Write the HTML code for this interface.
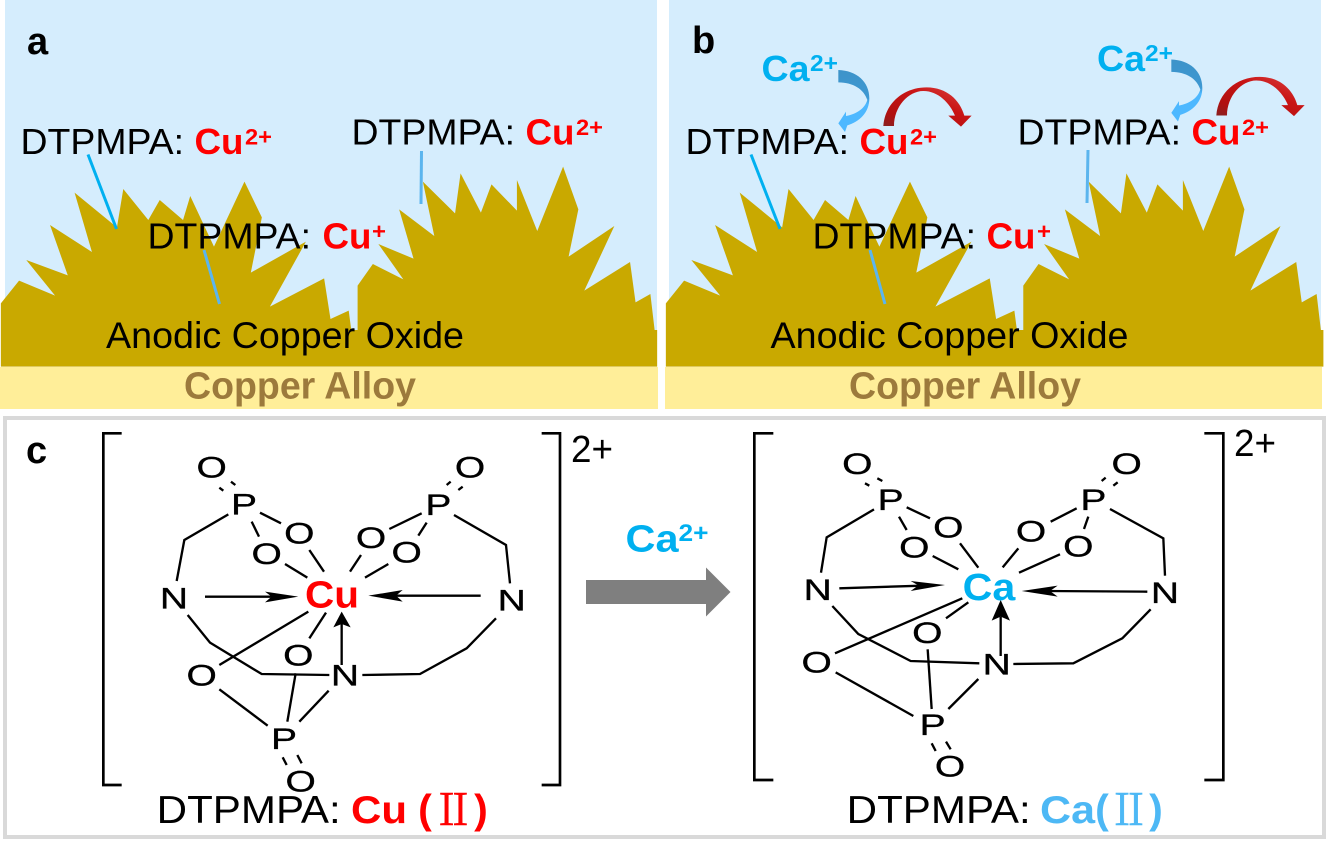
<!DOCTYPE html>
<html><head><meta charset="utf-8">
<style>
html,body{margin:0;padding:0;background:#fff}
svg{display:block}
text{font-family:"Liberation Sans",sans-serif}
.r{font-size:36px;fill:#000}
.an{font-size:37px;fill:#000}
.b{font-weight:bold}
.red{fill:#f00}
.ca{fill:#00b0f0}
.alloy{font-size:38px;font-weight:bold;fill:#9c7a3c}
.chem line,.chem polyline{stroke:#000;stroke-width:7;fill:none}
.chem text{font-size:90px;fill:#000;text-anchor:middle;stroke:#000;stroke-width:1}
.chem polygon{fill:#000}
.chem .br{stroke:#000;stroke-width:8;fill:none}
.cj{font-family:"Noto Serif CJK SC","Liberation Serif",serif;font-size:43px;text-anchor:middle;stroke-width:.5}
.pa{font-size:41px;font-weight:bold;text-anchor:middle}
</style></head>
<body>
<svg xmlns="http://www.w3.org/2000/svg" width="1326" height="843" viewBox="0 0 1326 843">
<defs>
<linearGradient id="bl" x1="0" y1="0" x2="0" y2="1"><stop offset="0" stop-color="#3d93c9"/><stop offset=".45" stop-color="#3d98d2"/><stop offset=".55" stop-color="#4db8ff"/><stop offset="1" stop-color="#4db8ff"/></linearGradient>
<linearGradient id="rd" x1="0" y1="1" x2="1" y2="0"><stop offset="0" stop-color="#862222"/><stop offset=".2" stop-color="#b01010"/><stop offset=".6" stop-color="#c81414"/><stop offset="1" stop-color="#dc4444"/></linearGradient>
<polygon id="gr" points="2,490 45,422 130,467 62,360 160,406 118,255 217,336 176,158 276,262 291,147 350,240 377,180 432,240 449,168 505,320 577,125 618,232 592,398 722,305 637,500 765,415 780,537 823,512 829,570 844,570 844,437 880,372 952,418 893,312 976,356 942,208 1025,288 998,125 1074,220 1087,100 1135,218 1160,133 1220,212 1220,120 1268,273 1329,80 1365,208 1342,350 1450,258 1379,452 1487,366 1500,487 1535,462 1545,570 1551,570 1551,680 2,680"/>
<g id="arr">
<path fill="url(#bl)" d="M265,90 C320,92 358,125 358,175 C358,218 328,245 292,256 L285,276 L265,250 L288,215 L288,228 C320,222 345,205 352,180 C342,148 310,127 265,127 Z"/>
<path fill="url(#rd)" d="M400,258 C405,190 460,142 530,142 C590,142 630,180 643,227 L665,227 L633,260 L595,227 L615,227 C600,190 565,153 520,153 C475,153 432,200 432,258 Z"/>
</g>
</defs>

<!-- panel a -->
<rect x="5" y="0" width="652" height="345" fill="#d5edfd"/>
<rect x="0" y="367" width="658" height="42" fill="#ffee99"/>
<use href="#gr" transform="translate(0,140) scale(.4237,.3333)" fill="#c9a900"/>
<line x1="88" y1="154.5" x2="116.5" y2="229" stroke="#00b0f0" stroke-width="3"/>
<line x1="421.5" y1="151" x2="421" y2="204" stroke="#5bb5ee" stroke-width="3"/>
<line x1="204" y1="250" x2="219.5" y2="304" stroke="#5bb5ee" stroke-width="3"/>
<text x="27" y="54" class="b" font-size="38">a</text>
<text x="20.5" y="154" class="r" textLength="163.5" lengthAdjust="spacingAndGlyphs">DTPMPA:</text>
<text x="194.5" y="154" class="r b red" textLength="49" lengthAdjust="spacingAndGlyphs">Cu</text>
<text x="245" y="144.5" class="b red" font-size="22" textLength="27" lengthAdjust="spacingAndGlyphs">2+</text>
<text x="351.5" y="144.5" class="r" textLength="163.5" lengthAdjust="spacingAndGlyphs">DTPMPA:</text>
<text x="525.5" y="144.5" class="r b red" textLength="49" lengthAdjust="spacingAndGlyphs">Cu</text>
<text x="576" y="135" class="b red" font-size="22" textLength="27" lengthAdjust="spacingAndGlyphs">2+</text>
<text x="147.5" y="248.5" class="r" textLength="163.5" lengthAdjust="spacingAndGlyphs">DTPMPA:</text>
<text x="322.5" y="248.5" class="r b red" textLength="49" lengthAdjust="spacingAndGlyphs">Cu</text>
<text x="372" y="239" class="b red" font-size="22" textLength="14" lengthAdjust="spacingAndGlyphs">+</text>
<text x="106" y="348" class="an" textLength="358" lengthAdjust="spacingAndGlyphs">Anodic Copper Oxide</text>
<text x="184" y="398.5" class="alloy" textLength="232" lengthAdjust="spacingAndGlyphs">Copper Alloy</text>

<!-- panel b -->
<rect x="669" y="0" width="652" height="345" fill="#d5edfd"/>
<rect x="665" y="367" width="657" height="42" fill="#ffee99"/>
<use href="#gr" transform="translate(665,140) scale(.4245,.3333)" fill="#c9a900"/>
<line x1="751" y1="154.5" x2="780" y2="229" stroke="#00b0f0" stroke-width="3"/>
<line x1="1088" y1="150" x2="1087" y2="203" stroke="#5bb5ee" stroke-width="3"/>
<line x1="870" y1="250" x2="885" y2="304" stroke="#5bb5ee" stroke-width="3"/>
<text x="692" y="53" class="b" font-size="38">b</text>
<text x="761.5" y="81" class="r b ca" textLength="48" lengthAdjust="spacingAndGlyphs">Ca</text>
<text x="810" y="71" class="b ca" font-size="23" textLength="28" lengthAdjust="spacingAndGlyphs">2+</text>
<text x="1097" y="71" class="r b ca" textLength="48" lengthAdjust="spacingAndGlyphs">Ca</text>
<text x="1145" y="61" class="b ca" font-size="23" textLength="28" lengthAdjust="spacingAndGlyphs">2+</text>
<use href="#arr" transform="translate(750,40) scale(.3333)"/>
<use href="#arr" transform="translate(1083,29.5) scale(.3333)"/>
<text x="685.5" y="154" class="r" textLength="163.5" lengthAdjust="spacingAndGlyphs">DTPMPA:</text>
<text x="859.5" y="154" class="r b red" textLength="49" lengthAdjust="spacingAndGlyphs">Cu</text>
<text x="910" y="144.5" class="b red" font-size="22" textLength="27" lengthAdjust="spacingAndGlyphs">2+</text>
<text x="1017.5" y="144.5" class="r" textLength="163.5" lengthAdjust="spacingAndGlyphs">DTPMPA:</text>
<text x="1191.5" y="144.5" class="r b red" textLength="49" lengthAdjust="spacingAndGlyphs">Cu</text>
<text x="1242" y="135" class="b red" font-size="22" textLength="27" lengthAdjust="spacingAndGlyphs">2+</text>
<text x="812.5" y="248.5" class="r" textLength="163.5" lengthAdjust="spacingAndGlyphs">DTPMPA:</text>
<text x="986.5" y="248.5" class="r b red" textLength="49" lengthAdjust="spacingAndGlyphs">Cu</text>
<text x="1037" y="239" class="b red" font-size="22" textLength="14" lengthAdjust="spacingAndGlyphs">+</text>
<text x="770.5" y="348" class="an" textLength="358" lengthAdjust="spacingAndGlyphs">Anodic Copper Oxide</text>
<text x="849" y="398.5" class="alloy" textLength="232" lengthAdjust="spacingAndGlyphs">Copper Alloy</text>

<!-- panel c -->
<rect x="5" y="418" width="1319" height="419" fill="#fff" stroke="#d9d9d9" stroke-width="4"/>
<text x="26" y="463" class="b" font-size="38">c</text>
<text x="571" y="462" font-size="38" textLength="42" lengthAdjust="spacingAndGlyphs">2+</text>
<text x="1234" y="456" font-size="38" textLength="42" lengthAdjust="spacingAndGlyphs">2+</text>
<text x="625.5" y="551.5" class="b ca" font-size="38" textLength="53" lengthAdjust="spacingAndGlyphs">Ca</text>
<text x="678.5" y="541" class="b ca" font-size="24" textLength="30" lengthAdjust="spacingAndGlyphs">2+</text>
<polygon points="586,580 706,580 706,567.5 730.5,592 706,616.5 706,604 586,604" fill="#7f7f7f"/>

<!-- left molecule -->
<g class="chem" transform="translate(90,420) scale(.33333)">
<polyline class="br" points="95,40 40,40 40,1095 95,1095"/>
<polyline class="br" points="1355,40 1410,40 1410,1095 1355,1095"/>
<polyline points="415,283 283,360 260,483"/>
<line x1="388" y1="203" x2="400" y2="212"/><line x1="423" y1="185" x2="436" y2="195"/>
<line x1="510" y1="278" x2="573" y2="310"/><line x1="485" y1="305" x2="507" y2="350"/>
<line x1="658" y1="390" x2="702" y2="455"/><line x1="585" y1="432" x2="652" y2="473"/>
<line x1="995" y1="280" x2="898" y2="327"/><line x1="1010" y1="308" x2="985" y2="347"/>
<polyline points="1092,285 1248,375 1260,490"/>
<line x1="1070" y1="195" x2="1082" y2="185"/><line x1="1105" y1="210" x2="1118" y2="200"/>
<line x1="813" y1="405" x2="780" y2="455"/><line x1="895" y1="432" x2="825" y2="473"/>
<line x1="345" y1="530" x2="560" y2="530"/><polygon points="625,530 525,515 545,530 525,547"/>
<line x1="1172" y1="527" x2="900" y2="527"/><polygon points="835,527 938,510 918,527 938,545"/>
<line x1="755" y1="735" x2="755" y2="610"/><polygon points="755,575 730,622 755,612 782,622"/>
<line x1="655" y1="575" x2="388" y2="735"/><line x1="708" y1="578" x2="658" y2="655"/>
<polyline points="293,585 360,668 515,762 718,765"/>
<polyline points="817,765 990,762 1130,685 1218,595"/>
<line x1="617" y1="760" x2="592" y2="905"/><line x1="388" y1="808" x2="533" y2="917"/><line x1="716" y1="812" x2="628" y2="905"/>
<line x1="578" y1="1012" x2="590" y2="1035"/><line x1="622" y1="1005" x2="635" y2="1030"/>
<text transform="translate(365,172) scale(1.3,1)">O</text>
<text transform="translate(462,284) scale(1.3,1)">P</text>
<text transform="translate(628,370) scale(1.3,1)">O</text>
<text transform="translate(530,432) scale(1.3,1)">O</text>
<text transform="translate(843,384) scale(1.3,1)">O</text>
<text transform="translate(950,427) scale(1.3,1)">O</text>
<text transform="translate(1045,285) scale(1.3,1)">P</text>
<text transform="translate(1140,172) scale(1.3,1)">O</text>
<text transform="translate(252,565) scale(1.3,1)">N</text>
<text transform="translate(1265,572) scale(1.3,1)">N</text>
<text transform="translate(625,737) scale(1.3,1)">O</text>
<text transform="translate(335,797) scale(1.3,1)">O</text>
<text transform="translate(765,797) scale(1.3,1)">N</text>
<text transform="translate(582,987) scale(1.3,1)">P</text>
<text transform="translate(632,1114) scale(1.3,1)">O</text>
<text x="726" y="562" style="font-size:115px;font-weight:bold;fill:#f00;stroke:none" textLength="162" lengthAdjust="spacingAndGlyphs">Cu</text>
</g>
<text x="156.7" y="823" font-size="39" textLength="184" lengthAdjust="spacingAndGlyphs">DTPMPA:</text>
<text x="351" y="823" class="b red" font-size="39" textLength="56" lengthAdjust="spacingAndGlyphs">Cu</text>
<text x="425" y="823" class="pa red">(</text>
<text x="453.5" y="825" class="cj red" stroke="#f00" textLength="42" lengthAdjust="spacingAndGlyphs">Ⅱ</text>
<text x="481" y="823" class="pa red">)</text>

<!-- right molecule -->
<g class="chem" transform="translate(745,420) scale(.33333)">
<polyline class="br" points="85,40 28,40 28,1080 85,1080"/>
<polyline class="br" points="1378,40 1435,40 1435,1080 1378,1080"/>
<polyline points="387,268 245,352 228,458"/>
<line x1="360" y1="190" x2="373" y2="197"/><line x1="397" y1="175" x2="412" y2="183"/>
<line x1="485" y1="262" x2="555" y2="295"/><line x1="462" y1="290" x2="485" y2="330"/>
<line x1="645" y1="370" x2="700" y2="443"/><line x1="563" y1="408" x2="640" y2="448"/>
<line x1="995" y1="265" x2="917" y2="305"/><line x1="1030" y1="290" x2="1017" y2="327"/>
<polyline points="1095,267 1255,355 1260,467"/>
<line x1="1070" y1="183" x2="1082" y2="173"/><line x1="1105" y1="197" x2="1118" y2="187"/>
<line x1="820" y1="385" x2="773" y2="442"/><line x1="945" y1="403" x2="822" y2="458"/>
<line x1="283" y1="505" x2="530" y2="497"/><polygon points="600,495 497,483 520,496 497,513"/>
<line x1="1207" y1="515" x2="900" y2="513"/><polygon points="830,513 938,497 915,513 938,530"/>
<line x1="767" y1="708" x2="767" y2="590"/><polygon points="767,540 740,602 767,590 795,602"/>
<line x1="652" y1="535" x2="270" y2="700"/><line x1="670" y1="547" x2="603" y2="595"/>
<polyline points="262,558 340,642 497,723 703,730"/>
<polyline points="805,732 985,730 1132,655 1217,568"/>
<line x1="548" y1="688" x2="560" y2="867"/><line x1="272" y1="757" x2="505" y2="888"/><line x1="700" y1="777" x2="610" y2="867"/>
<line x1="560" y1="970" x2="572" y2="993"/><line x1="603" y1="965" x2="617" y2="988"/>
<text transform="translate(337,162) scale(1.3,1)">O</text>
<text transform="translate(437,270) scale(1.3,1)">P</text>
<text transform="translate(610,352) scale(1.3,1)">O</text>
<text transform="translate(508,412) scale(1.3,1)">O</text>
<text transform="translate(858,365) scale(1.3,1)">O</text>
<text transform="translate(1000,409) scale(1.3,1)">O</text>
<text transform="translate(1045,270) scale(1.3,1)">P</text>
<text transform="translate(1145,162) scale(1.3,1)">O</text>
<text transform="translate(218,540) scale(1.3,1)">N</text>
<text transform="translate(1260,549) scale(1.3,1)">N</text>
<text transform="translate(547,669) scale(1.3,1)">O</text>
<text transform="translate(215,757) scale(1.3,1)">O</text>
<text transform="translate(755,764) scale(1.3,1)">N</text>
<text transform="translate(563,945) scale(1.3,1)">P</text>
<text transform="translate(615,1070) scale(1.3,1)">O</text>
<text x="732" y="540" style="font-size:115px;font-weight:bold;fill:#00b0f0;stroke:none" textLength="158" lengthAdjust="spacingAndGlyphs">Ca</text>
</g>
<text x="846.7" y="823" font-size="39" textLength="184" lengthAdjust="spacingAndGlyphs">DTPMPA:</text>
<text x="1040" y="823" class="b" fill="#4db8f5" font-size="39" textLength="55" lengthAdjust="spacingAndGlyphs">Ca</text>
<text x="1102" y="823" class="pa" fill="#4db8f5">(</text>
<text x="1129" y="825" class="cj" fill="#4db8f5" stroke="#4db8f5" textLength="42" lengthAdjust="spacingAndGlyphs">Ⅱ</text>
<text x="1156" y="823" class="pa" fill="#4db8f5">)</text>
</svg>
</body></html>
